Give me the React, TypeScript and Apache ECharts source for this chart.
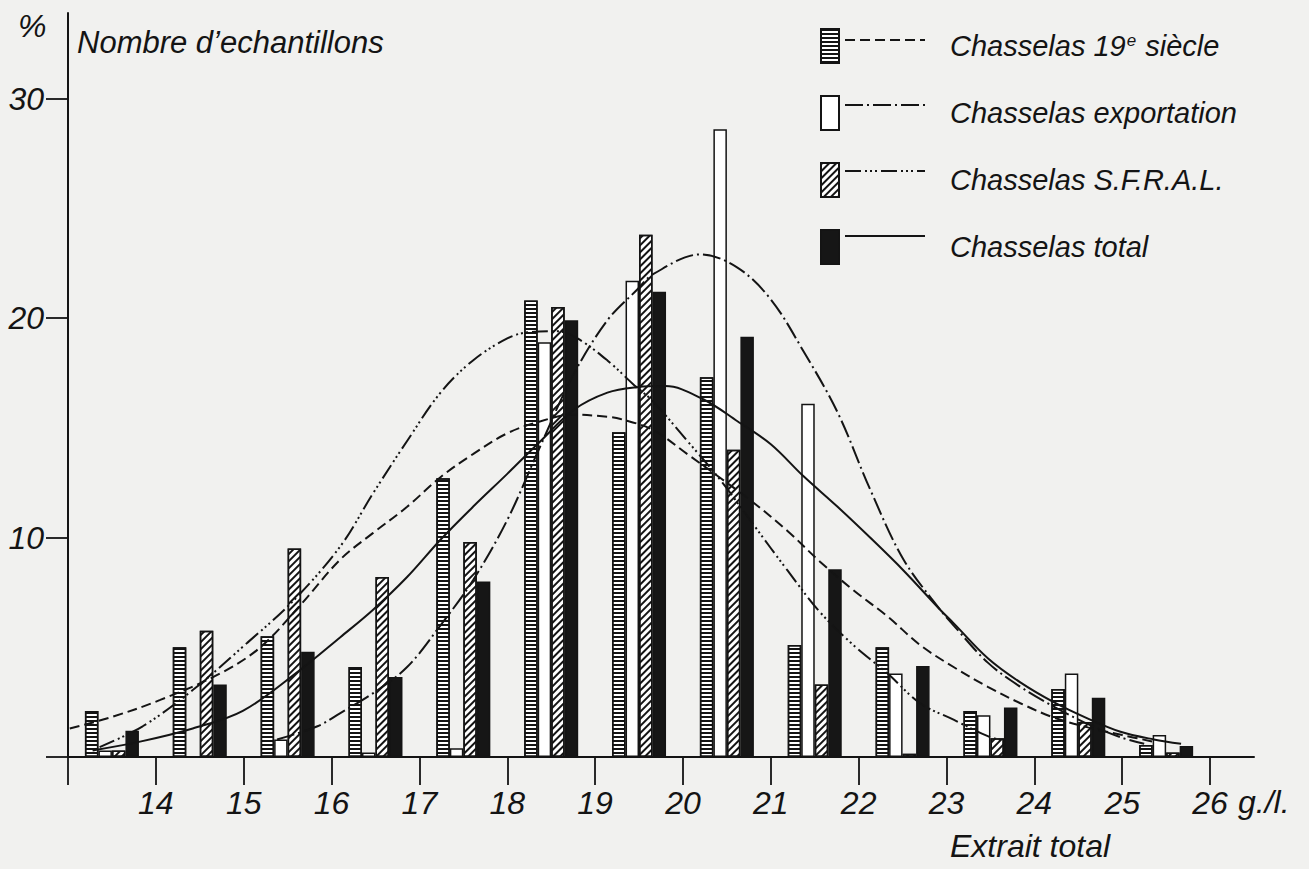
import React, { useEffect, useRef } from "react";
import * as echarts from "echarts";

// Class intervals (g/l), midpoints of 13-14 ... 25-26
const classMid = [13.5, 14.5, 15.5, 16.5, 17.5, 18.5, 19.5, 20.5, 21.5, 22.5, 23.5, 24.5, 25.5];

// Bar heights (% of samples)
const bars19e = [2.1, 5.0, 5.5, 4.1, 12.7, 20.8, 14.8, 17.3, 5.1, 5.0, 2.1, 3.1, 0.55];
const barsExport = [0.3, 0, 0.8, 0.2, 0.4, 18.9, 21.7, 28.6, 16.1, 3.8, 1.9, 3.8, 1.0];
const barsSfral = [0.3, 5.75, 9.5, 8.2, 9.8, 20.5, 23.8, 14.0, 3.3, 0.15, 0.85, 1.6, 0.2];
const barsTotal = [1.2, 3.3, 4.8, 3.65, 8.0, 19.9, 21.2, 19.15, 8.55, 4.15, 2.25, 2.7, 0.5];

// Fitted curves: [g/l, %]
const curve19e: [number, number][] = [
  [13.02, 1.3], [13.48, 1.8], [14.05, 2.6], [14.73, 3.8], [15.19, 5.0], [15.64, 6.9],
  [16.1, 9.0], [16.47, 10.2], [16.86, 11.4], [17.24, 12.75], [17.61, 13.8], [18.0, 14.75],
  [18.38, 15.3], [18.75, 15.6], [19.14, 15.5], [19.29, 15.4], [19.66, 14.9], [20.05, 13.8],
  [20.43, 12.7], [20.8, 11.6], [21.19, 10.3], [21.56, 8.9], [21.94, 7.6], [22.33, 6.4],
  [22.7, 5.1], [23.08, 4.1], [23.47, 3.2], [23.84, 2.45], [24.22, 1.8], [24.61, 1.35],
  [25.0, 1.0], [25.35, 0.7],
];
const curveExport: [number, number][] = [
  [15.38, 0.8], [15.84, 1.4], [16.1, 2.0], [16.47, 2.9], [16.86, 4.1], [17.24, 6.0],
  [17.61, 8.05], [18.0, 10.8], [18.38, 14.2], [18.75, 17.4], [19.14, 19.9], [19.48, 21.3],
  [19.66, 22.0], [20.2, 22.9], [20.62, 22.3], [21.0, 20.85], [21.37, 18.5], [21.76, 15.7],
  [22.13, 12.2], [22.51, 9.0], [22.93, 6.7], [23.08, 6.0], [23.47, 4.3], [23.84, 3.2],
  [24.22, 2.3], [24.61, 1.5], [24.98, 0.9], [25.25, 0.6],
];
const curveSfral: [number, number][] = [
  [13.36, 0.45], [13.85, 1.4], [14.42, 3.05], [15.04, 5.2], [15.56, 7.1], [16.1, 9.6],
  [16.47, 12.0], [16.86, 14.4], [17.24, 16.6], [17.61, 18.07], [18.0, 19.07], [18.23, 19.35],
  [18.57, 19.4], [18.8, 19.07], [19.14, 18.07], [19.43, 17.0], [19.66, 16.2], [20.05, 14.4],
  [20.43, 12.6], [20.8, 10.6], [21.19, 8.5], [21.56, 6.6], [21.94, 5.1], [22.33, 3.8],
  [22.7, 2.45], [23.08, 1.7], [23.47, 0.95], [23.69, 0.7],
];
const curveTotal: [number, number][] = [
  [13.28, 0.3], [13.82, 0.7], [14.42, 1.3], [14.99, 2.1], [15.64, 3.96], [16.1, 5.46],
  [16.47, 6.7], [16.86, 8.2], [17.24, 9.9], [17.61, 11.4], [18.0, 12.9], [18.38, 14.4],
  [18.75, 15.8], [19.14, 16.6], [19.48, 16.85], [19.8, 16.9], [20.23, 16.3], [20.62, 15.3],
  [21.0, 14.25], [21.37, 12.8], [21.76, 11.4], [22.13, 10.0], [22.51, 8.5], [22.93, 6.7],
  [23.08, 6.1], [23.47, 4.5], [23.84, 3.4], [24.22, 2.5], [24.61, 1.75], [24.98, 1.15],
  [25.36, 0.8], [25.67, 0.6],
];

const xTicks = [13, 14, 15, 16, 17, 18, 19, 20, 21, 22, 23, 24, 25, 26];
const xLabels = [14, 15, 16, 17, 18, 19, 20, 21, 22, 23, 24, 25, 26];
const yTicks = [0, 10, 20, 30];
const yLabels = [10, 20, 30];

const seriesNames = [
  "Chasselas 19e siècle",
  "Chasselas exportation",
  "Chasselas S.F.R.A.L.",
  "Chasselas total",
];

const INK = "#141414";
const FONT = "'Liberation Sans', 'DejaVu Sans', sans-serif";

export default function App() {
  const ref = useRef<HTMLDivElement>(null);

  useEffect(() => {
    if (!ref.current) return;
    const chart = echarts.init(ref.current, undefined, { renderer: "svg" });

    const toPairs = (vals: number[]) => classMid.map((m, i) => [m, vals[i]]);

    const barBase = {
      type: "bar",
      barWidth: 13.5,
      barGap: "0%",
      z: 2,
    };

    const lineBase = (data: [number, number][], dash: number[] | "solid", name: string) => ({
      type: "line",
      name,
      data,
      smooth: 0.35,
      showSymbol: false,
      symbol: "none",
      z: 5,
      lineStyle: { color: INK, width: 2, type: dash as any },
    });

    const dashA = [10, 5];
    const dashB = [18, 4, 2, 4];
    const dashC = [16, 4, 2, 3, 2, 3, 2, 4];

    const legendRowsY = [40, 105, 171, 236];
    const dashes: (number[] | null)[] = [dashA, dashB, dashC, null];

    const option: any = {
      animation: false,
      backgroundColor: "#f1f1ef",
      grid: { left: 68, right: 55, top: 13, bottom: 112, containLabel: false },
      xAxis: {
        type: "value",
        min: 13,
        max: 26.5,
        axisLine: { show: true, lineStyle: { color: INK, width: 2 } },
        axisTick: {
          show: true,
          inside: false,
          length: 28,
          customValues: xTicks,
          lineStyle: { color: INK, width: 1.8 },
        },
        axisLabel: {
          customValues: xLabels,
          margin: 30,
          fontSize: 32,
          fontStyle: "italic",
          fontFamily: FONT,
          color: INK,
        },
        splitLine: { show: false },
      },
      yAxis: {
        type: "value",
        min: 0,
        max: 33.9,
        axisLine: { show: true, lineStyle: { color: INK, width: 2 } },
        axisTick: {
          show: true,
          length: 22,
          customValues: yTicks,
          lineStyle: { color: INK, width: 1.8 },
        },
        axisLabel: {
          customValues: yLabels,
          margin: 24,
          fontSize: 32,
          fontStyle: "italic",
          fontFamily: FONT,
          color: INK,
        },
        splitLine: { show: false },
      },
      legend: {
        data: seriesNames,
        orient: "vertical",
        left: 815,
        top: 23,
        icon: "rect",
        itemWidth: 18,
        itemHeight: 34,
        itemGap: 31,
        selectedMode: false,
        formatter: (name: string) =>
          name === seriesNames[0] ? "Chasselas 19{sup|e} siècle" : name,
        textStyle: {
          fontSize: 29,
          fontStyle: "italic",
          fontFamily: FONT,
          color: INK,
          padding: [0, 0, 0, 106],
          rich: {
            sup: {
              fontSize: 17,
              fontStyle: "italic",
              fontFamily: FONT,
              color: INK,
              verticalAlign: "top",
              padding: [0, 1, 12, 1],
            },
          },
        },
      },
      graphic: [
        {
          type: "text",
          left: 18,
          top: 10,
          style: { text: "%", fontSize: 32, fontStyle: "italic", fontFamily: FONT, fill: INK },
        },
        {
          type: "text",
          left: 77,
          top: 27,
          style: {
            text: "Nombre d’echantillons",
            fontSize: 31,
            fontStyle: "italic",
            fontFamily: FONT,
            fill: INK,
          },
        },
        {
          type: "text",
          left: 1238,
          top: 786,
          style: { text: "g./l.", fontSize: 32, fontStyle: "italic", fontFamily: FONT, fill: INK },
        },
        {
          type: "text",
          left: 950,
          top: 830,
          style: {
            text: "Extrait total",
            fontSize: 32,
            fontStyle: "italic",
            fontFamily: FONT,
            fill: INK,
          },
        },
        ...legendRowsY.map((y, i) => ({
          type: "line",
          shape: { x1: 845, y1: y, x2: 925, y2: y },
          style: {
            stroke: INK,
            lineWidth: 2,
            lineDash: dashes[i] || undefined,
          },
        })),
      ],
      series: [
        {
          ...barBase,
          name: seriesNames[0],
          data: toPairs(bars19e),
          itemStyle: {
            color: "#ffffff",
            borderColor: INK,
            borderWidth: 1.5,
            decal: {
              symbol: "rect",
              symbolSize: 1,
              color: INK,
              dashArrayX: [1, 0],
              dashArrayY: [1.6, 1.6],
              rotation: 0,
            },
          },
        },
        {
          ...barBase,
          name: seriesNames[1],
          data: toPairs(barsExport),
          itemStyle: { color: "#ffffff", borderColor: INK, borderWidth: 1.5 },
        },
        {
          ...barBase,
          name: seriesNames[2],
          data: toPairs(barsSfral),
          itemStyle: {
            color: "#ffffff",
            borderColor: INK,
            borderWidth: 1.5,
            decal: {
              symbol: "rect",
              symbolSize: 1,
              color: INK,
              dashArrayX: [1, 0],
              dashArrayY: [1.1, 2.6],
              rotation: -Math.PI / 4,
            },
          },
        },
        {
          ...barBase,
          name: seriesNames[3],
          data: toPairs(barsTotal),
          itemStyle: { color: "#161616", borderColor: INK, borderWidth: 1.5 },
        },
        lineBase(curve19e, dashA, "Courbe 19e siècle"),
        lineBase(curveExport, dashB, "Courbe exportation"),
        lineBase(curveSfral, dashC, "Courbe S.F.R.A.L."),
        lineBase(curveTotal, "solid", "Courbe total"),
      ],
    };

    chart.setOption(option);
    return () => chart.dispose();
  }, []);

  return (
    <div
      ref={ref}
      style={{ position: "fixed", left: 0, top: 0, width: 1309, height: 869 }}
    />
  );
}
